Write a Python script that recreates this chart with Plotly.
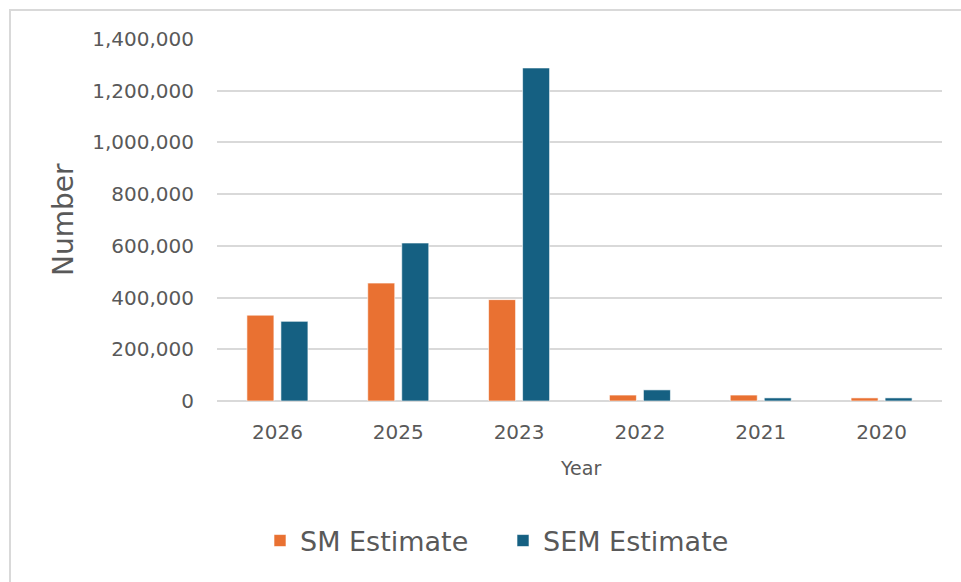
import plotly.graph_objects as go

years = ["2026", "2025", "2023", "2022", "2021", "2020"]
sm_estimate = [332000, 456000, 392000, 23000, 23000, 12000]
sem_estimate = [308000, 611000, 1288000, 43000, 12000, 12000]
y_ticks = [0, 200000, 400000, 600000, 800000, 1000000, 1200000, 1400000]

FONT = "DejaVu Sans"
TXT = "#595959"
GRID = "#d9d9d9"

W, H = 961, 582
L, R, T, B = 217, 19, 39, 181
pw = W - L - R
ph = H - T - B

def px(x):
    return (x - L) / pw

def py(y):
    return (H - B - y) / ph

fig = go.Figure()
fig.add_trace(go.Bar(name="SM Estimate", x=years, y=sm_estimate,
                     marker=dict(color="#E97132", line=dict(color="rgba(255,255,255,0.6)", width=1))))
fig.add_trace(go.Bar(name="SEM Estimate", x=years, y=sem_estimate,
                     marker=dict(color="#156082", line=dict(color="rgba(255,255,255,0.6)", width=1))))

fig.update_layout(
    width=W, height=H,
    margin=dict(l=L, r=R, t=T, b=B),
    paper_bgcolor="white", plot_bgcolor="white",
    barmode="group", bargap=0.437, bargroupgap=0.206,
    font=dict(family=FONT, color=TXT, size=20),
    showlegend=True,
    legend=dict(orientation="h", x=px(503), y=py(541), xanchor="center", yanchor="middle",
                font=dict(size=27, color=TXT), itemwidth=30, entrywidth=198,
                traceorder="normal"),
    xaxis=dict(type="category", showgrid=False, showline=False, ticks="",
               tickfont=dict(size=20, color=TXT), ticklabelstandoff=17),
    yaxis=dict(range=[0, 1400000], tickvals=y_ticks, tickformat=",",
               showgrid=True, gridcolor=GRID, gridwidth=2, zeroline=True,
               zerolinecolor=GRID, zerolinewidth=2, showline=False, ticks="",
               tickfont=dict(size=20, color=TXT), ticklabelstandoff=22),
    annotations=[
        dict(text="Number", xref="paper", yref="paper", x=px(63), y=py(220),
             textangle=-90, showarrow=False, font=dict(size=28, color=TXT),
             xanchor="center", yanchor="middle"),
        dict(text="Year", xref="paper", yref="paper", x=px(580), y=py(468),
             showarrow=False, font=dict(size=19, color=TXT),
             xanchor="center", yanchor="middle"),
    ],
    shapes=[
        dict(type="rect", xref="paper", yref="paper", x0=px(10), x1=px(1000),
             y0=py(700), y1=py(10), line=dict(color=GRID, width=2), layer="below"),
    ],
)

fig.write_html("out.html")
